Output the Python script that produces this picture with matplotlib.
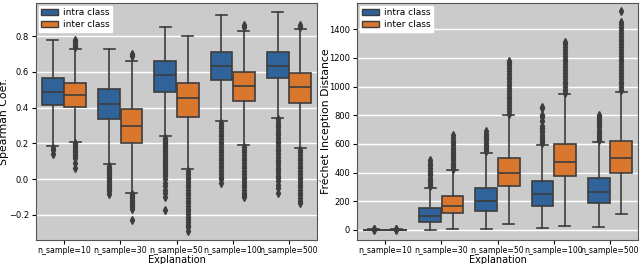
import matplotlib.pyplot as plt
import numpy as np

labels = ["n_sample=10", "n_sample=30", "n_sample=50", "n_sample=100", "n_sample=500"]
hues = ["intra class", "inter class"]
colors = ["#2f639a", "#d9772e"]

# Spearman: (whislo, q1, med, q3, whishi) per hue per category
sp_intra = [(0.185, 0.415, 0.49, 0.565, 0.78), (0.085, 0.335, 0.42, 0.505, 0.73),
            (0.24, 0.49, 0.585, 0.66, 0.85), (0.325, 0.555, 0.635, 0.71, 0.92),
            (0.34, 0.565, 0.635, 0.71, 0.935)]
sp_inter = [(0.21, 0.405, 0.47, 0.535, 0.73), (-0.08, 0.20, 0.30, 0.39, 0.66),
            (0.055, 0.35, 0.455, 0.54, 0.80), (0.19, 0.435, 0.52, 0.60, 0.83),
            (0.175, 0.425, 0.515, 0.595, 0.84)]
sp_intra_fl = [
    [0.175, 0.165, 0.14],
    [0.075, 0.065, 0.055, 0.045, 0.035, 0.025, 0.015, 0.005, -0.005, -0.015, -0.025, -0.035,
     -0.045, -0.055, -0.065, -0.085],
    [0.23, 0.22, 0.21, 0.2, 0.19, 0.18, 0.17, 0.16, 0.15, 0.14, 0.13, 0.12, 0.11, 0.1, 0.09,
     0.08, 0.07, 0.06, 0.05, 0.04, 0.03, 0.02, 0.0, -0.02, -0.04, -0.06, -0.08, -0.1, -0.17],
    [0.315, 0.3, 0.285, 0.27, 0.255, 0.24, 0.225, 0.21, 0.195, 0.18, 0.165, 0.15, 0.135, 0.12,
     0.105, 0.09, 0.075, 0.06, 0.045, 0.03, 0.015, 0.0, -0.02],
    [0.335, 0.32, 0.305, 0.29, 0.275, 0.26, 0.245, 0.23, 0.215, 0.2, 0.185, 0.17, 0.155, 0.14,
     0.125, 0.11, 0.095, 0.08, 0.065, 0.05, 0.035, 0.02, 0.005, -0.01, -0.03, -0.05, -0.075],
]
sp_inter_fl = [
    [0.74, 0.75, 0.76, 0.77, 0.78, 0.2, 0.19, 0.18, 0.17, 0.16, 0.15, 0.14, 0.13, 0.12, 0.09, 0.065],
    [0.69, 0.70, -0.085, -0.095, -0.105, -0.115, -0.125, -0.135, -0.145, -0.155, -0.165, -0.23],
    [0.045, 0.03, 0.015, 0.0, -0.015, -0.03, -0.045, -0.06, -0.075, -0.09, -0.105, -0.12,
     -0.135, -0.15, -0.165, -0.18, -0.195, -0.21, -0.225, -0.24, -0.255, -0.27, -0.29],
    [0.85, 0.86, 0.18, 0.165, 0.15, 0.135, 0.12, 0.105, 0.09, 0.075, 0.06, 0.045, 0.03, 0.015,
     0.0, -0.015, -0.03, -0.045, -0.06, -0.075, -0.09, -0.1],
    [0.85, 0.86, 0.165, 0.15, 0.135, 0.12, 0.105, 0.09, 0.075, 0.06, 0.045, 0.03, 0.015, 0.0,
     -0.015, -0.03, -0.045, -0.06, -0.075, -0.09, -0.105, -0.12, -0.135],
]

# Frechet Inception Distance
fid_intra = [(0, 1, 2, 3, 4), (0, 55, 95, 150, 295), (5, 130, 205, 290, 540),
             (12, 170, 250, 340, 595), (20, 185, 265, 360, 615)]
fid_inter = [(0, 1, 2, 3, 4), (10, 120, 165, 235, 415), (45, 305, 395, 505, 800),
             (30, 375, 475, 600, 945), (110, 395, 500, 620, 965)]
fid_intra_fl = [
    [0, 5, 9],
    [305, 320, 335, 350, 365, 380, 395, 410, 430, 450, 470, 490],
    [550, 565, 580, 595, 610, 625, 640, 655, 670, 690],
    [605, 620, 635, 650, 665, 680, 695, 710, 725, 760, 790, 805, 850, 860],
    [625, 640, 655, 670, 685, 700, 715, 730, 745, 760, 775, 790, 805],
]
fid_inter_fl = [
    [0, 5, 9],
    [425, 440, 455, 470, 485, 500, 515, 530, 545, 560, 575, 590, 605, 620, 640, 660],
    [810, 830, 850, 870, 890, 910, 930, 950, 970, 990, 1010, 1030, 1050, 1070, 1090,
     1110, 1130, 1150, 1165, 1180],
    [955, 975, 995, 1015, 1035, 1055, 1075, 1095, 1115, 1135, 1155, 1175, 1195, 1215,
     1235, 1255, 1275, 1295, 1310],
    [975, 995, 1015, 1035, 1055, 1075, 1095, 1115, 1135, 1155, 1175, 1195, 1215, 1235,
     1255, 1275, 1295, 1315, 1335, 1355, 1375, 1395, 1415, 1435, 1450, 1530],
]

edge = "#3d3d3d"


def draw(ax, intra, inter, intra_fl, inter_fl):
    for h, (stats, fl) in enumerate([(intra, intra_fl), (inter, inter_fl)]):
        bx = []
        for (lo, q1, med, q3, hi), f in zip(stats, fl):
            bx.append(dict(whislo=lo, q1=q1, med=med, q3=q3, whishi=hi, fliers=f))
        pos = np.arange(len(labels)) + (h - 0.5) * 0.4
        ax.bxp(bx, positions=pos, widths=0.39, patch_artist=True,
               showcaps=True, manage_ticks=False,
               boxprops=dict(facecolor=colors[h], edgecolor=edge, linewidth=1.2),
               medianprops=dict(color=edge, linewidth=1.2),
               whiskerprops=dict(color=edge, linewidth=1.2),
               capprops=dict(color=edge, linewidth=1.2),
               flierprops=dict(marker="d", markersize=3.8, markerfacecolor=edge,
                               markeredgecolor=edge, linestyle="none"))
    ax.set_facecolor("#cbcbcb")
    ax.grid(axis="y", color="white", linewidth=1.0)
    ax.set_axisbelow(True)
    for s in ax.spines.values():
        s.set_color("#555555")
    ax.set_xticks(np.arange(len(labels)))
    ax.set_xticklabels(labels, fontsize=5.6)
    ax.set_xlim(-0.5, len(labels) - 0.5)
    ax.tick_params(axis="y", labelsize=6, length=3, pad=2)
    ax.tick_params(axis="x", length=3, pad=1.5)
    ax.set_xlabel("Explanation", fontsize=7, labelpad=0)
    handles = [plt.Rectangle((0, 0), 1, 1, facecolor=c, edgecolor=edge) for c in colors]
    ax.legend(handles, hues, loc="upper left", fontsize=6.5, frameon=True,
              fancybox=False, framealpha=1, edgecolor="white", borderpad=0.3,
              handlelength=1.8, handletextpad=0.6, labelspacing=0.3,
              borderaxespad=0.3)


fig = plt.figure(figsize=(6.4, 2.64), dpi=100)
ax1 = fig.add_axes([36 / 640, 24 / 264, 281 / 640, 237 / 264])
ax2 = fig.add_axes([357 / 640, 24 / 264, 281 / 640, 237 / 264])

draw(ax1, sp_intra, sp_inter, sp_intra_fl, sp_inter_fl)
ax1.set_ylim(-0.34, 0.985)
ax1.set_yticks([-0.2, 0.0, 0.2, 0.4, 0.6, 0.8])
ax1.set_ylabel("Spearman Coef.", fontsize=7.8)
ax1.yaxis.set_label_coords(-0.096, 0.5)

draw(ax2, fid_intra, fid_inter, fid_intra_fl, fid_inter_fl)
ax2.set_ylim(-70, 1583)
ax2.set_yticks([0, 200, 400, 600, 800, 1000, 1200, 1400])
ax2.set_ylabel("Fréchet Inception Distance", fontsize=7.8)
ax2.yaxis.set_label_coords(-0.093, 0.5)

fig.savefig("out.png", dpi=100)
